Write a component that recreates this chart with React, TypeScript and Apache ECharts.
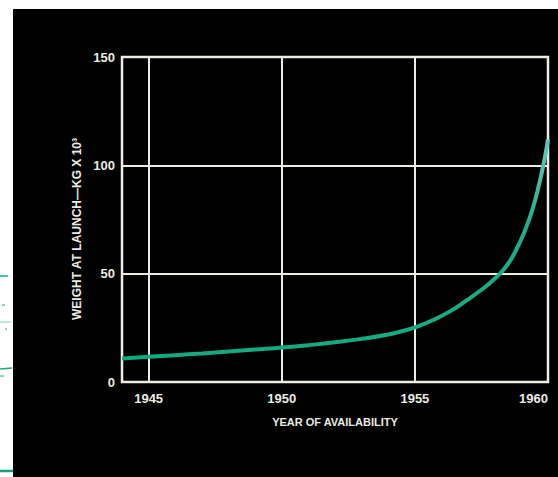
import React, { useEffect, useRef } from "react";
import * as echarts from "echarts";

const years = [1944.0, 1945, 1946, 1947, 1948, 1949, 1950, 1951, 1952, 1953, 1954, 1954.5, 1955, 1955.69, 1956.33, 1956.96, 1957.59, 1957.9, 1958.22, 1958.5, 1958.73, 1959.11, 1959.42, 1959.68, 1959.87, 1960];
const weights = [10.8, 11.6, 12.4, 13.2, 14.1, 15.0, 15.9, 17.0, 18.3, 19.9, 21.9, 23.4, 25.2, 28.6, 32.7, 37.8, 43.4, 46.6, 50.3, 54.6, 59.2, 69.1, 79.8, 92.0, 102.8, 112.0];
const xGridYears = [1945, 1950, 1955];
const yTicks = [0, 50, 100, 150];
const xName = "YEAR OF AVAILABILITY";
const yName = "WEIGHT AT LAUNCH\u2014KG X 10\u00B3";

const FONT = '"Liberation Sans", "DejaVu Sans", sans-serif';
const FG = "#ecebe4";

export default function App() {
  const ref = useRef<HTMLDivElement>(null);
  useEffect(() => {
    if (!ref.current) return;
    const chart = echarts.init(ref.current, null, { renderer: "svg" });
    const green = "#16a87d";
    chart.setOption({
      animation: false,
      backgroundColor: "#000000",
      grid: {
        left: 122,
        top: 57,
        width: 426,
        height: 325,
        show: true,
        borderColor: FG,
        borderWidth: 2.5,
        containLabel: false,
        outerBoundsMode: "none",
      },
      xAxis: {
        type: "value",
        min: 1944,
        max: 1960,
        interval: 1,
        axisLine: { show: false },
        axisTick: { show: false },
        splitLine: { show: false },
        axisLabel: {
          color: FG,
          fontFamily: FONT,
          fontWeight: "bold",
          fontSize: 13,
          margin: 10,
          showMinLabel: true,
          showMaxLabel: true,
          hideOverlap: false,
          alignMaxLabel: "right",
          formatter: (v: number) => (v % 5 === 0 ? String(v) : ""),
        },
      },
      yAxis: {
        type: "value",
        min: yTicks[0],
        max: yTicks[yTicks.length - 1],
        interval: 50,
        axisLine: { show: false },
        axisTick: { show: false },
        splitLine: { show: true, lineStyle: { color: FG, width: 2 } },
        axisLabel: {
          color: FG,
          fontFamily: FONT,
          fontWeight: "bold",
          fontSize: 13,
          margin: 7,
        },
      },
      series: [
        {
          type: "line",
          data: years.map((y, i) => [y, weights[i]]),
          smooth: 0.5,
          showSymbol: false,
          symbol: "none",
          z: 5,
          lineStyle: {
            width: 4,
            color: new echarts.graphic.LinearGradient(0, 1, 0, 0, [
              { offset: 0, color: green },
              { offset: 0.6, color: "#1fae8a" },
              { offset: 1, color: "#62c9bc" },
            ]),
          },
          markLine: {
            silent: true,
            symbol: ["none", "none"],
            label: { show: false },
            lineStyle: { color: FG, width: 2, type: "solid" },
            z: 1,
            data: xGridYears.map((y) => ({ xAxis: y })),
          },
        },
      ],
      graphic: [
        { type: "rect", shape: { x: 0, y: 0, width: 558, height: 9 }, style: { fill: "#ffffff" }, silent: true },
        { type: "rect", shape: { x: 0, y: 0, width: 13, height: 477 }, style: { fill: "#ffffff" }, silent: true },
        { type: "line", shape: { x1: 0, y1: 276, x2: 8, y2: 276 }, style: { stroke: "#1aa883", lineWidth: 1.5 }, silent: true },
        { type: "line", shape: { x1: 2, y1: 305, x2: 5, y2: 305 }, style: { stroke: "#1aa883", lineWidth: 1 }, silent: true },
        { type: "line", shape: { x1: 0, y1: 322, x2: 11, y2: 322 }, style: { stroke: "#7fd0bb", lineWidth: 1 }, silent: true },
        { type: "line", shape: { x1: 5, y1: 329, x2: 7, y2: 329 }, style: { stroke: "#1aa883", lineWidth: 1 }, silent: true },
        { type: "line", shape: { x1: 0, y1: 369, x2: 12, y2: 368 }, style: { stroke: "#1aa883", lineWidth: 1.5 }, silent: true },
        { type: "line", shape: { x1: 0, y1: 376, x2: 4, y2: 376 }, style: { stroke: "#1aa883", lineWidth: 1 }, silent: true },
        { type: "line", shape: { x1: 0, y1: 471, x2: 13, y2: 471 }, style: { stroke: "#12a07a", lineWidth: 2.5 }, silent: true },
        {
          type: "text",
          x: 335,
          y: 422,
          style: {
            text: xName,
            fill: FG,
            font: `bold 11px ${FONT}`,
            align: "center",
            verticalAlign: "middle",
          },
          silent: true,
        },
        {
          type: "text",
          x: 77,
          y: 229,
          rotation: Math.PI / 2,
          style: {
            text: yName,
            fill: FG,
            font: `bold 12px ${FONT}`,
            align: "center",
            verticalAlign: "middle",
          },
          silent: true,
        },
      ],
    });
    return () => chart.dispose();
  }, []);
  return <div ref={ref} style={{ position: "fixed", left: 0, top: 0, width: 558, height: 477 }} />;
}
